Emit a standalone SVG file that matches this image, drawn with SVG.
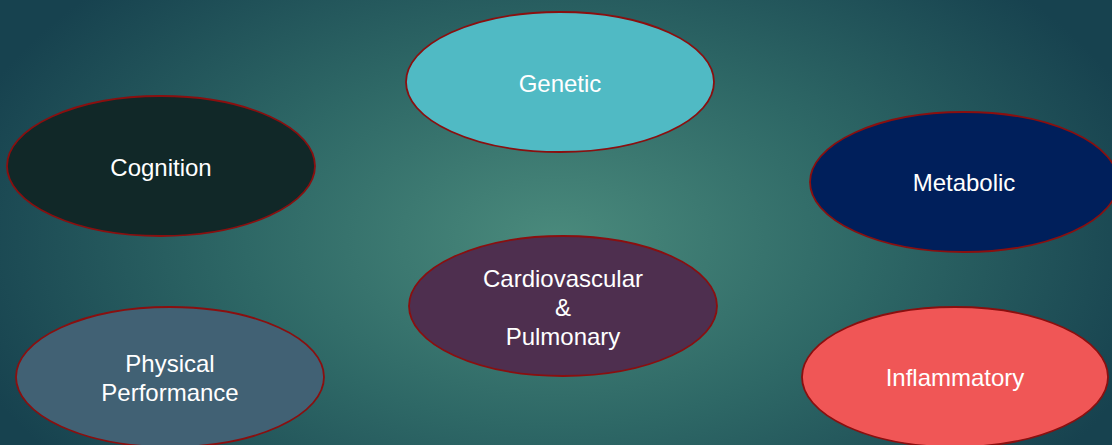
<svg xmlns="http://www.w3.org/2000/svg" width="1112" height="445" viewBox="0 0 1112 445">
<defs>
<radialGradient id="bg" gradientUnits="userSpaceOnUse" cx="556" cy="240" r="620" gradientTransform="translate(556 240) scale(1 0.6) translate(-556 -240)">
<stop offset="0" stop-color="#4a8a7c"/>
<stop offset="0.5" stop-color="#2e6866"/>
<stop offset="1" stop-color="#17424f"/>
</radialGradient>
<style>
.n{stroke:#8a0f0f;stroke-width:1.8}
.t{font-family:"Liberation Sans",Arial,sans-serif;font-size:24px;fill:#ffffff;text-anchor:middle}
</style>
</defs>
<rect width="1112" height="445" fill="url(#bg)"/>
<g id="connectors"/>
<g id="genetic"><ellipse class="n" cx="560" cy="82" rx="154" ry="70" fill="#50bac4"/><text class="t" x="560" y="92">Genetic</text></g>
<g id="cognition"><ellipse class="n" cx="161" cy="166" rx="154" ry="70" fill="#112828"/><text class="t" x="161" y="176">Cognition</text></g>
<g id="metabolic"><ellipse class="n" cx="964" cy="182" rx="154" ry="70" fill="#001f5b"/><text class="t" x="964" y="191">Metabolic</text></g>
<g id="cardio"><ellipse class="n" cx="563" cy="306" rx="154" ry="70" fill="#4e2f4f"/><text class="t" x="563" y="287">Cardiovascular</text><text class="t" x="563" y="316">&amp;</text><text class="t" x="563" y="345">Pulmonary</text></g>
<g id="physical"><ellipse class="n" cx="170" cy="377" rx="154" ry="70" fill="#416174"/><text class="t" x="170" y="372">Physical</text><text class="t" x="170" y="401">Performance</text></g>
<g id="inflammatory"><ellipse class="n" cx="955" cy="377" rx="153" ry="70" fill="#f05656"/><text class="t" x="955" y="386">Inflammatory</text></g>
</svg>
